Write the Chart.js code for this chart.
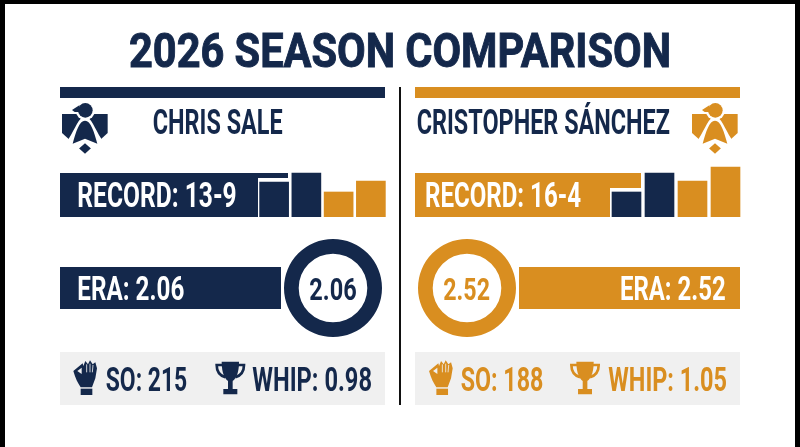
<!DOCTYPE html>
<html>
<head>
<meta charset="utf-8">
<title>2026 Season Comparison</title>
<script src="https://cdn.jsdelivr.net/npm/chart.js@4"></script>
<style>
  html, body { margin: 0; padding: 0; background: #fff; }
  #page { position: relative; width: 800px; height: 447px; overflow: hidden; background: #fff; }
  #page > div, #page > canvas, #page > svg { position: absolute; }
  .navy { background: #14284b; }
  .gold { background: #d98e20; }
  .stats { background: #f0f0f0; }
  text { font-family: Roboto, sans-serif; font-weight: 700; }
</style>
</head>
<body>
<div id="page">
  <!-- marco negro -->
  <div style="left:0;top:0;width:800px;height:3.5px;background:#000"></div>
  <div style="left:0;top:0;width:5px;height:447px;background:#000"></div>
  <div style="left:795px;top:0;width:5px;height:447px;background:#000"></div>

  <div style="left:399px;top:87px;width:2px;height:318px;background:#111"></div>

  <div class="navy" style="left:60px;top:87px;width:325px;height:11px"></div>
  <div class="gold" style="left:415px;top:87px;width:325px;height:11px"></div>

  <div class="navy" style="left:60px;top:173px;width:228px;height:44px"></div>
  <div class="gold" style="left:415px;top:173px;width:226px;height:44px"></div>

  <div class="navy" style="left:60px;top:267px;width:221px;height:42px"></div>
  <div class="gold" style="left:519px;top:267px;width:221px;height:42px"></div>

  <div class="stats" style="left:60px;top:352px;width:325px;height:53px"></div>
  <div class="stats" style="left:415px;top:352px;width:325px;height:53px"></div>

  <canvas id="saleBars" style="left:257.5px;top:157px;width:129px;height:60px"></canvas>
  <canvas id="sanchezBars" style="left:610px;top:157px;width:132px;height:60px"></canvas>
  <canvas id="saleRing" style="left:284px;top:239px;width:98px;height:98px"></canvas>
  <canvas id="sanchezRing" style="left:418px;top:239px;width:98px;height:98px"></canvas>

  <svg id="overlay" width="800" height="447" style="left:0;top:0">
    <defs>
      <symbol id="pitcher" viewBox="0 0 180 180">
        <path d="M18 48H155V105L87 167L18 105Z" fill="currentColor"/>
        <path d="M87 56C68 56 58 92 38 122L14 156H64L87 136L110 156H160L136 122C116 92 106 56 87 56Z" fill="#fff"/>
        <circle cx="88" cy="37" r="29" fill="#fff"/>
        <path d="M87 68C70 68 60 100 50 137L87 122L124 137C114 100 104 68 87 68Z" fill="currentColor"/>
        <circle cx="88" cy="37" r="22" fill="currentColor"/>
        <path d="M48 36L70 22V42H56Z" fill="currentColor"/>
      </symbol>
      <symbol id="glove" viewBox="0 0 150 135">
        <path d="M22 48L50 25L52 33L58 18L66 28L72 16L80 28L88 22L93 40L88 70L78 97H44C36 85 28 70 22 48Z" fill="currentColor"/>
        <path d="M34 48L47 38V57Z" fill="#f0f0f0"/>
        <path d="M62 28V52 M72 26V52 M81 30L79 52" fill="none" stroke="#f0f0f0" stroke-width="2.5"/>
        <rect x="44" y="101" width="35" height="19" fill="currentColor"/>
      </symbol>
      <symbol id="trophy" viewBox="0 0 150 135">
        <path d="M41 20H93C93 56 83 76 67 81C51 76 41 56 41 20Z" fill="currentColor"/>
        <path d="M44 30H26C26 50 36 62 52 67M90 30H108C108 50 98 62 82 67" fill="none" stroke="currentColor" stroke-width="8"/>
        <path d="M60 78H74V102H60Z M46 102H88V118H46Z" fill="currentColor"/>
      </symbol>
    </defs>
  </svg>
</div>

<script>
// Datos
const title = '2026 SEASON COMPARISON';
const players = ['CHRIS SALE', 'CRISTOPHER SÁNCHEZ'];
const records = ['13-9', '16-4'];
const eras = [2.06, 2.52];
const strikeouts = [215, 188];
const whips = [0.98, 1.05];

const barCategories = ['1', '2', '3', '4'];
const saleBarValues = [35, 44, 25, 36];
const sanchezBarValues = [25, 44, 36, 50];

const NAVY = '#14284b';
const GOLD = '#d98e20';
const barColors = [NAVY, NAVY, GOLD, GOLD];

// Recuadro blanco detrás de la primera barra
const firstBarOutline = {
    id: 'firstBarOutline',
    beforeDatasetsDraw(chart) {
        const bar = chart.getDatasetMeta(0).data[0];
        const left = bar.x - bar.width / 2;
        chart.ctx.fillStyle = '#fff';
        chart.ctx.fillRect(left - 4, bar.y - 4, bar.width + 4, bar.base - bar.y + 4);
    }
};

function drawBars(id, values) {
    const canvas = document.getElementById(id);
    new Chart(canvas, {
        type: 'bar',
        data: {
            labels: barCategories,
            datasets: [{ data: values, backgroundColor: barColors, borderWidth: 0, barThickness: 29 }]
        },
        options: {
            responsive: false,
            animation: false,
            layout: { padding: 0 },
            plugins: { legend: { display: false }, tooltip: { enabled: false } },
            scales: {
                x: { display: false },
                y: { display: false, min: 0, max: 60 }
            }
        },
        plugins: [firstBarOutline]
    });
}

function drawRing(id, value, color) {
    const canvas = document.getElementById(id);
    new Chart(canvas, {
        type: 'doughnut',
        data: {
            labels: ['ERA'],
            datasets: [{ data: [value], backgroundColor: [color], borderWidth: 0 }]
        },
        options: {
            responsive: false,
            animation: false,
            cutout: '70%',
            layout: { padding: 0 },
            plugins: { legend: { display: false }, tooltip: { enabled: false } }
        }
    });
}

// Texto con ancho fijo, x = inicio, y = línea base
function addText(str, x, y, size, width, color, stroke) {
    const el = document.createElementNS('http://www.w3.org/2000/svg', 'text');
    el.textContent = str;
    el.setAttribute('x', x);
    el.setAttribute('y', y);
    el.setAttribute('font-size', size);
    el.setAttribute('fill', color);
    el.setAttribute('textLength', width);
    el.setAttribute('lengthAdjust', 'spacingAndGlyphs');
    if (stroke) {
        el.setAttribute('stroke', color);
        el.setAttribute('stroke-width', stroke);
    }
    document.getElementById('overlay').appendChild(el);
}

function addIcon(name, x, y, w, h, color) {
    const el = document.createElementNS('http://www.w3.org/2000/svg', 'use');
    el.setAttribute('href', '#' + name);
    el.setAttribute('x', x);
    el.setAttribute('y', y);
    el.setAttribute('width', w);
    el.setAttribute('height', h);
    el.style.color = color;
    document.getElementById('overlay').appendChild(el);
}

drawBars('saleBars', saleBarValues);
drawBars('sanchezBars', sanchezBarValues);
drawRing('saleRing', eras[0], NAVY);
drawRing('sanchezRing', eras[1], GOLD);

addText(title, 129, 66.5, 48, 542, NAVY, 1);

addText(players[0], 152.7, 134.3, 35, 130, NAVY);
addText(players[1], 416.7, 134.3, 35, 253.3, NAVY);

addText('RECORD: ' + records[0], 77.3, 207.3, 35, 159.4, '#fff');
addText('RECORD: ' + records[1], 425, 207.3, 35, 156, '#fff');

addText('ERA: ' + eras[0].toFixed(2), 77.3, 300, 33, 107, '#fff');
addText('ERA: ' + eras[1].toFixed(2), 620, 300, 33, 105.7, '#fff');
addText(eras[0].toFixed(2), 309.3, 299.5, 31, 47.4, NAVY);
addText(eras[1].toFixed(2), 443.3, 299.5, 31, 46.7, GOLD);

addText('SO: ' + strikeouts[0], 105.7, 391, 33, 81.6, NAVY);
addText('WHIP: ' + whips[0].toFixed(2), 252.3, 391, 33, 119.7, NAVY);
addText('SO: ' + strikeouts[1], 460.7, 391, 33, 82.6, GOLD);
addText('WHIP: ' + whips[1].toFixed(2), 608.3, 391, 33, 118.7, GOLD);

addIcon('pitcher', 56, 98, 60, 60, NAVY);
addIcon('pitcher', 686, 98, 60, 60, GOLD);
addIcon('glove', 66, 355, 50, 45, NAVY);
addIcon('glove', 421.7, 355, 50, 45, GOLD);
addIcon('trophy', 208, 355, 50, 45, NAVY);
addIcon('trophy', 562.7, 355, 50, 45, GOLD);
</script>
</body>
</html>
